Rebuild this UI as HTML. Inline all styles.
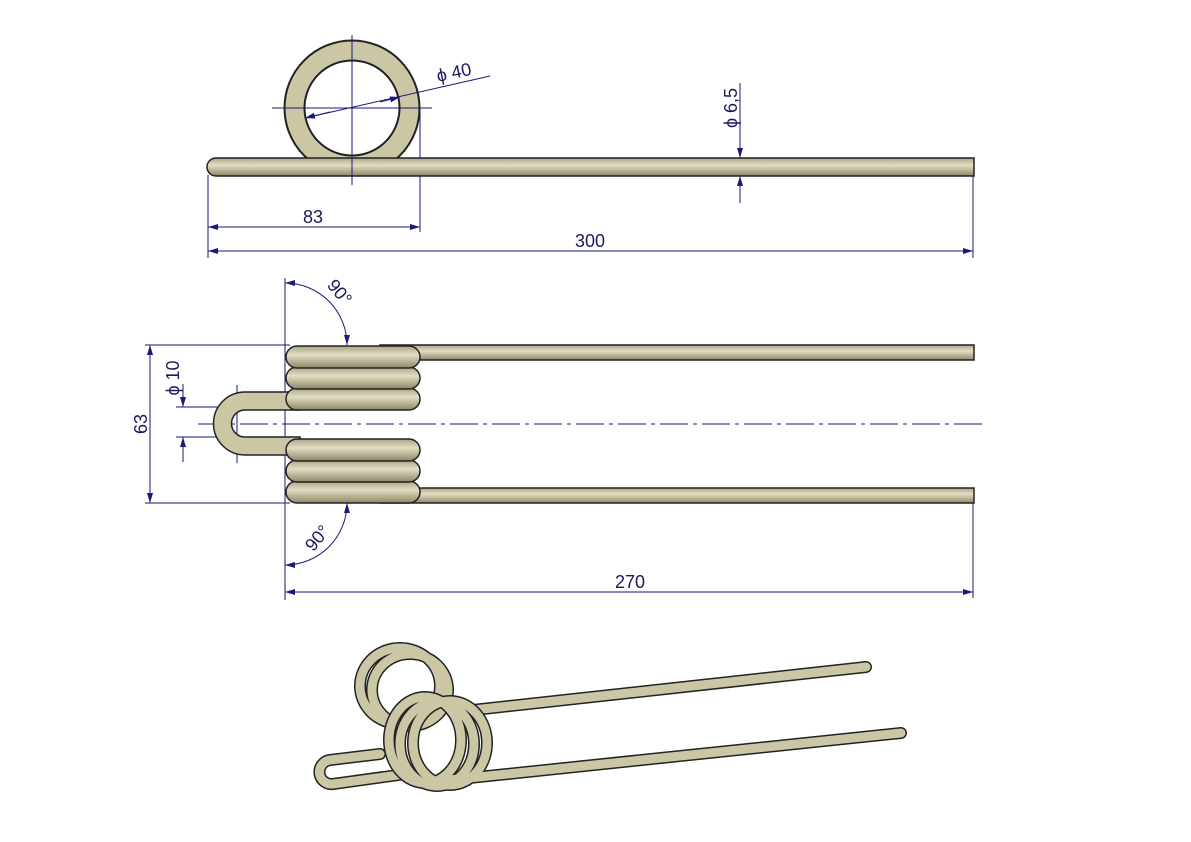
<!DOCTYPE html>
<html><head><meta charset="utf-8"><style>
html,body{margin:0;padding:0;background:#fff}
svg{display:block}
text{font-family:"Liberation Sans",sans-serif;fill:#1a1a5e;font-size:18px}
</style></head><body>
<svg width="1191" height="842" viewBox="0 0 1191 842" xmlns="http://www.w3.org/2000/svg">
<defs>
<marker id="a" viewBox="0 0 10 6" refX="10" refY="3" markerWidth="10" markerHeight="6" orient="auto-start-reverse" markerUnits="userSpaceOnUse"><path d="M0,0L10,3L0,6z" fill="#1a1a7a"/></marker>
<linearGradient id="g" x1="0" y1="0" x2="0" y2="1"><stop offset="0" stop-color="#a9a484"/><stop offset="0.4" stop-color="#e2dec4"/><stop offset="1" stop-color="#8c8766"/></linearGradient>
</defs>
<g stroke="#1a1a7a" stroke-width="1" fill="none">
<line x1="208" y1="175" x2="208" y2="258"/>
<line x1="420" y1="108" x2="420" y2="232"/>
<line x1="973" y1="176" x2="973" y2="258"/>
<line x1="208" y1="227" x2="420" y2="227" marker-start="url(#a)" marker-end="url(#a)"/>
<line x1="208" y1="251" x2="973" y2="251" marker-start="url(#a)" marker-end="url(#a)"/>
<line x1="740" y1="83" x2="740" y2="158" marker-end="url(#a)"/>
<line x1="740" y1="203" x2="740" y2="176" marker-end="url(#a)"/>
<line x1="285" y1="278" x2="285" y2="600"/>
<line x1="973" y1="503" x2="973" y2="598"/>
<line x1="285" y1="592" x2="973" y2="592" marker-start="url(#a)" marker-end="url(#a)"/>
<line x1="145" y1="345" x2="290" y2="345"/>
<line x1="145" y1="503" x2="290" y2="503"/>
<line x1="150" y1="345" x2="150" y2="503" marker-start="url(#a)" marker-end="url(#a)"/>
<line x1="176" y1="407" x2="240" y2="407"/>
<line x1="176" y1="437" x2="240" y2="437"/>
<line x1="183" y1="384" x2="183" y2="407" marker-end="url(#a)"/>
<line x1="183" y1="462" x2="183" y2="437" marker-end="url(#a)"/>
<line x1="237" y1="385" x2="237" y2="463"/>
<path d="M285,283 A62,62 0 0 1 347,345" marker-start="url(#a)" marker-end="url(#a)"/>
<path d="M285,565 A62,62 0 0 0 347,503" marker-start="url(#a)" marker-end="url(#a)"/>
<line x1="198" y1="424" x2="985" y2="424" stroke-dasharray="28,5,4,5"/>
</g>
<g>
<circle cx="352" cy="108" r="57.5" fill="none" stroke="#222" stroke-width="22"/>
<circle cx="352" cy="108" r="57.5" fill="none" stroke="#cbc6a4" stroke-width="18"/>
<path d="M216,158 L974,158 L974,176 L216,176 A9,9 0 0 1 216,158 Z" fill="url(#g)" stroke="#222" stroke-width="1.5"/>
</g>
<g stroke="#1a1a7a" stroke-width="1" fill="none">
<line x1="352" y1="35" x2="352" y2="185"/>
<line x1="272" y1="108" x2="432" y2="108"/>
<line x1="305" y1="118" x2="490" y2="76" />
<line x1="305" y1="118" x2="330" y2="112" marker-start="url(#a)"/>
<line x1="400" y1="97" x2="380" y2="102" marker-start="url(#a)"/>
</g>
<text x="438" y="82" transform="rotate(-12 438 82)">ϕ 40</text>
<text x="313" y="223" text-anchor="middle">83</text>
<text x="590" y="247" text-anchor="middle">300</text>
<text transform="translate(737,108) rotate(-90)" text-anchor="middle">ϕ 6,5</text>
<g stroke="#222" stroke-width="1.5">
<rect x="380" y="345" width="594" height="15" fill="url(#g)"/>
<rect x="380" y="488" width="594" height="15" fill="url(#g)"/>
<path d="M300,392 L245,392 A31.5,31.5 0 0 0 245,455 L300,455 L300,437 L245,437 A13.5,13.5 0 0 1 245,410 L300,410 Z" fill="#cbc6a4"/>
<rect x="286" y="388" width="134" height="22" rx="11" fill="url(#g)"/>
<rect x="286" y="367" width="134" height="22" rx="11" fill="url(#g)"/>
<rect x="286" y="346" width="134" height="22" rx="11" fill="url(#g)"/>
<rect x="286" y="481" width="134" height="22" rx="11" fill="url(#g)"/>
<rect x="286" y="460" width="134" height="22" rx="11" fill="url(#g)"/>
<rect x="286" y="439" width="134" height="22" rx="11" fill="url(#g)"/>
</g>
<text transform="translate(147,424) rotate(-90)" text-anchor="middle">63</text>
<text transform="translate(179,378) rotate(-90)" text-anchor="middle">ϕ 10</text>
<text transform="translate(335,296) rotate(50)" text-anchor="middle">90°</text>
<text transform="translate(322,542) rotate(-50)" text-anchor="middle">90°</text>
<text x="630" y="588" text-anchor="middle">270</text>
<g fill="none" stroke-linecap="round">
<g stroke="#222" stroke-width="12">
<path d="M380,754 L330,760 A12,12 0 0 0 333,784 L420,772"/>
<line x1="455" y1="712" x2="866" y2="667"/>
<ellipse cx="400" cy="686" rx="40" ry="38"/>
<ellipse cx="410" cy="690" rx="38" ry="36"/>
</g>
<g stroke="#cbc6a4" stroke-width="9">
<path d="M380,754 L330,760 A12,12 0 0 0 333,784 L420,772"/>
<line x1="455" y1="712" x2="866" y2="667"/>
<ellipse cx="400" cy="686" rx="40" ry="38"/>
<ellipse cx="410" cy="690" rx="38" ry="36"/>
</g>
<g stroke="#222" stroke-width="12">
<line x1="440" y1="781" x2="901" y2="733"/>
<ellipse cx="425" cy="740" rx="36" ry="43"/>
<ellipse cx="437" cy="744" rx="37" ry="42"/>
<ellipse cx="450" cy="743" rx="37" ry="42"/>
</g>
<g stroke="#cbc6a4" stroke-width="9">
<line x1="440" y1="781" x2="901" y2="733"/>
<ellipse cx="425" cy="740" rx="36" ry="43"/>
<ellipse cx="437" cy="744" rx="37" ry="42"/>
<ellipse cx="450" cy="743" rx="37" ry="42"/>
</g>
</g>
</svg>
</body></html>
